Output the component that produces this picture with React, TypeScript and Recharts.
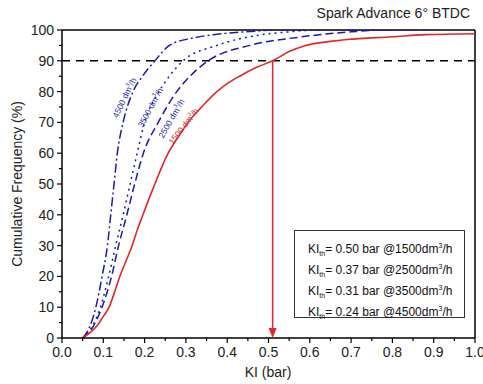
import React from "react";
import {
  LineChart,
  Line,
  XAxis,
  YAxis,
  ReferenceLine,
  ReferenceDot,
} from "recharts";

// KI (bar) vs cumulative frequency (%)
const red1500 = [
  { x: 0.05, y: 0 }, { x: 0.07, y: 2 }, { x: 0.085, y: 4 }, { x: 0.1, y: 7 },
  { x: 0.114, y: 10 }, { x: 0.125, y: 14 }, { x: 0.14, y: 20 }, { x: 0.155, y: 25 },
  { x: 0.17, y: 30 }, { x: 0.182, y: 35 }, { x: 0.196, y: 40 }, { x: 0.21, y: 45 },
  { x: 0.225, y: 50 }, { x: 0.24, y: 55 }, { x: 0.257, y: 60 }, { x: 0.28, y: 65 },
  { x: 0.305, y: 70 }, { x: 0.338, y: 75 }, { x: 0.375, y: 80 }, { x: 0.4, y: 82.6 },
  { x: 0.43, y: 85 }, { x: 0.47, y: 87.8 }, { x: 0.51, y: 90 }, { x: 0.55, y: 93 },
  { x: 0.59, y: 95 }, { x: 0.65, y: 96.3 }, { x: 0.69, y: 96.9 }, { x: 0.8, y: 97.8 },
  { x: 0.88, y: 98.5 }, { x: 1.0, y: 98.8 },
];

const blue2500 = [
  { x: 0.05, y: 0 }, { x: 0.072, y: 3 }, { x: 0.097, y: 10 }, { x: 0.12, y: 20 },
  { x: 0.137, y: 30 }, { x: 0.157, y: 40 }, { x: 0.176, y: 50 }, { x: 0.197, y: 60 },
  { x: 0.233, y: 70 }, { x: 0.278, y: 80 }, { x: 0.31, y: 85 }, { x: 0.354, y: 90 },
  { x: 0.455, y: 95 }, { x: 0.576, y: 97.7 }, { x: 0.7, y: 99.4 }, { x: 0.78, y: 100 },
  { x: 0.9, y: 100 },
];

const blue3500 = [
  { x: 0.05, y: 0 }, { x: 0.07, y: 3 }, { x: 0.093, y: 10 }, { x: 0.113, y: 20 },
  { x: 0.13, y: 30 }, { x: 0.148, y: 40 }, { x: 0.165, y: 50 }, { x: 0.182, y: 60 },
  { x: 0.2, y: 70 }, { x: 0.235, y: 80 }, { x: 0.26, y: 85 }, { x: 0.293, y: 90 },
  { x: 0.375, y: 95 }, { x: 0.48, y: 98.4 }, { x: 0.55, y: 99.4 }, { x: 0.62, y: 100 },
  { x: 0.85, y: 100 },
];

const blue4500 = [
  { x: 0.05, y: 0 }, { x: 0.065, y: 3 }, { x: 0.082, y: 10 }, { x: 0.097, y: 20 },
  { x: 0.11, y: 30 }, { x: 0.118, y: 40 }, { x: 0.126, y: 50 }, { x: 0.134, y: 60 },
  { x: 0.148, y: 70 }, { x: 0.172, y: 80 }, { x: 0.195, y: 85 }, { x: 0.225, y: 90 },
  { x: 0.26, y: 95 }, { x: 0.317, y: 97.4 }, { x: 0.375, y: 98.6 }, { x: 0.455, y: 99.5 },
  { x: 0.52, y: 100 }, { x: 0.8, y: 100 },
];

const xTicks = Array.from({ length: 21 }, (_, i) => +(i * 0.05).toFixed(2));
const yTicks = Array.from({ length: 21 }, (_, i) => i * 5);

const kiThreshold = 0.51;

const legendRows = [
  { value: "0.50", flow: "1500" },
  { value: "0.37", flow: "2500" },
  { value: "0.31", flow: "3500" },
  { value: "0.24", flow: "4500" },
];

const curveLabels = [
  { text: "4500 dm", color: "#2a2aa8", x: 127, y: 99, angle: -64 },
  { text: "3500 dm", color: "#2a2aa8", x: 153, y: 109, angle: -62 },
  { text: "2500 dm", color: "#2a2aa8", x: 174, y: 120, angle: -60 },
  { text: "1500 dm", color: "#d02a2a", x: 186, y: 128, angle: -52 },
];

const RED = "#e3262a";
const BLUE = "#1c1ca6";
const FONT = "'Liberation Sans', Arial, sans-serif";

const XTick = ({ x, y, payload }: any) => {
  const v = payload.value;
  const major = Math.round(v * 100) % 10 === 0;
  return (
    <g>
      <line x1={x} x2={x} y1={y} y2={y + (major ? 5 : 3)} stroke="#000" strokeWidth={1.2} />
      {major && (
        <text x={x} y={y + 19} textAnchor="middle" fontSize={14} fill="#222" fontFamily={FONT}>
          {v.toFixed(1)}
        </text>
      )}
    </g>
  );
};

const YTick = ({ x, y, payload }: any) => {
  const v = payload.value;
  const major = v % 10 === 0;
  return (
    <g>
      <line x1={x - (major ? 5 : 3)} x2={x} y1={y} y2={y} stroke="#000" strokeWidth={1.2} />
      {major && (
        <text x={x - 8} y={y + 5} textAnchor="end" fontSize={14} fill="#222" fontFamily={FONT}>
          {v}
        </text>
      )}
    </g>
  );
};

const ArrowHead = ({ cx, cy }: any) => (
  <path d={`M${cx - 4},${cy - 10} L${cx + 4},${cy - 10} L${cx},${cy} Z`} fill={RED} />
);

export default function App() {
  return (
    <div style={{ position: "absolute", left: 0, top: 0, width: 483, height: 384, background: "#fff", fontFamily: FONT }}>
      <LineChart width={483} height={384} margin={{ top: 30, right: 8, left: 22, bottom: 16 }}>
        <XAxis
          type="number"
          dataKey="x"
          domain={[0, 1]}
          ticks={xTicks}
          interval={0}
          tick={<XTick />}
          tickLine={false}
          tickSize={0}
          tickMargin={0}
          height={30}
          axisLine={{ stroke: "#000", strokeWidth: 1.5 }}
          allowDataOverflow
        />
        <YAxis
          type="number"
          dataKey="y"
          domain={[0, 100]}
          ticks={yTicks}
          interval={0}
          tick={<YTick />}
          tickLine={false}
          tickSize={0}
          tickMargin={0}
          width={40}
          axisLine={{ stroke: "#000", strokeWidth: 1.5 }}
          allowDataOverflow
        />
        <ReferenceLine y={100} stroke="#000" strokeWidth={1.5} />
        <ReferenceLine x={1} stroke="#000" strokeWidth={1.5} />
        <ReferenceLine y={90} stroke="#000" strokeWidth={1.5} strokeDasharray="8 6" />
        <Line data={blue4500} dataKey="y" type="monotone" stroke={BLUE} strokeWidth={1.5} strokeDasharray="9 3 2 3" dot={false} isAnimationActive={false} />
        <Line data={blue3500} dataKey="y" type="monotone" stroke={BLUE} strokeWidth={1.5} strokeDasharray="2 4" dot={false} isAnimationActive={false} />
        <Line data={blue2500} dataKey="y" type="monotone" stroke={BLUE} strokeWidth={1.5} strokeDasharray="8 4" dot={false} isAnimationActive={false} />
        <Line data={red1500} dataKey="y" type="monotone" stroke={RED} strokeWidth={1.6} dot={false} isAnimationActive={false} />
        <ReferenceLine
          segment={[{ x: kiThreshold, y: 90 }, { x: kiThreshold, y: 2 }]}
          stroke={RED}
          strokeWidth={1.5}
        />
        <ReferenceDot x={kiThreshold} y={0} r={0} shape={<ArrowHead />} />
      </LineChart>

      <svg width={483} height={384} style={{ position: "absolute", left: 0, top: 0, pointerEvents: "none" }}>
        <text x={470} y={18} textAnchor="end" fontSize={14} fill="#222" fontFamily={FONT}>
          Spark Advance 6° BTDC
        </text>
        <text x={268} y={377} textAnchor="middle" fontSize={14} fill="#222" fontFamily={FONT}>
          KI (bar)
        </text>
        <text
          x={22}
          y={184}
          textAnchor="middle"
          fontSize={14}
          fill="#222"
          fontFamily={FONT}
          transform="rotate(-90 22 184)"
        >
          Cumulative Frequency (%)
        </text>
        {curveLabels.map((c) => (
          <text
            key={c.text}
            x={c.x}
            y={c.y}
            textAnchor="middle"
            fontSize={8.5}
            fill={c.color}
            fontFamily={FONT}
            transform={`rotate(${c.angle} ${c.x} ${c.y})`}
          >
            {c.text}
            <tspan fontSize={5.5} dy={-4}>3</tspan>
            <tspan dy={4}>/h</tspan>
          </text>
        ))}
      </svg>

      <div
        style={{
          position: "absolute",
          left: 294,
          top: 230,
          width: 171,
          height: 88,
          border: "1px solid #333",
          background: "#fff",
          fontSize: 12,
          color: "#111",
          boxSizing: "border-box",
          paddingTop: 4,
          paddingLeft: 13,
        }}
      >
        {legendRows.map((r) => (
          <div key={r.flow} style={{ height: 21, lineHeight: "21px", whiteSpace: "nowrap" }}>
            KI<sub style={{ fontSize: 7 }}>th</sub>= {r.value} bar @{r.flow}dm
            <sup style={{ fontSize: 7 }}>3</sup>/h
          </div>
        ))}
      </div>
    </div>
  );
}
